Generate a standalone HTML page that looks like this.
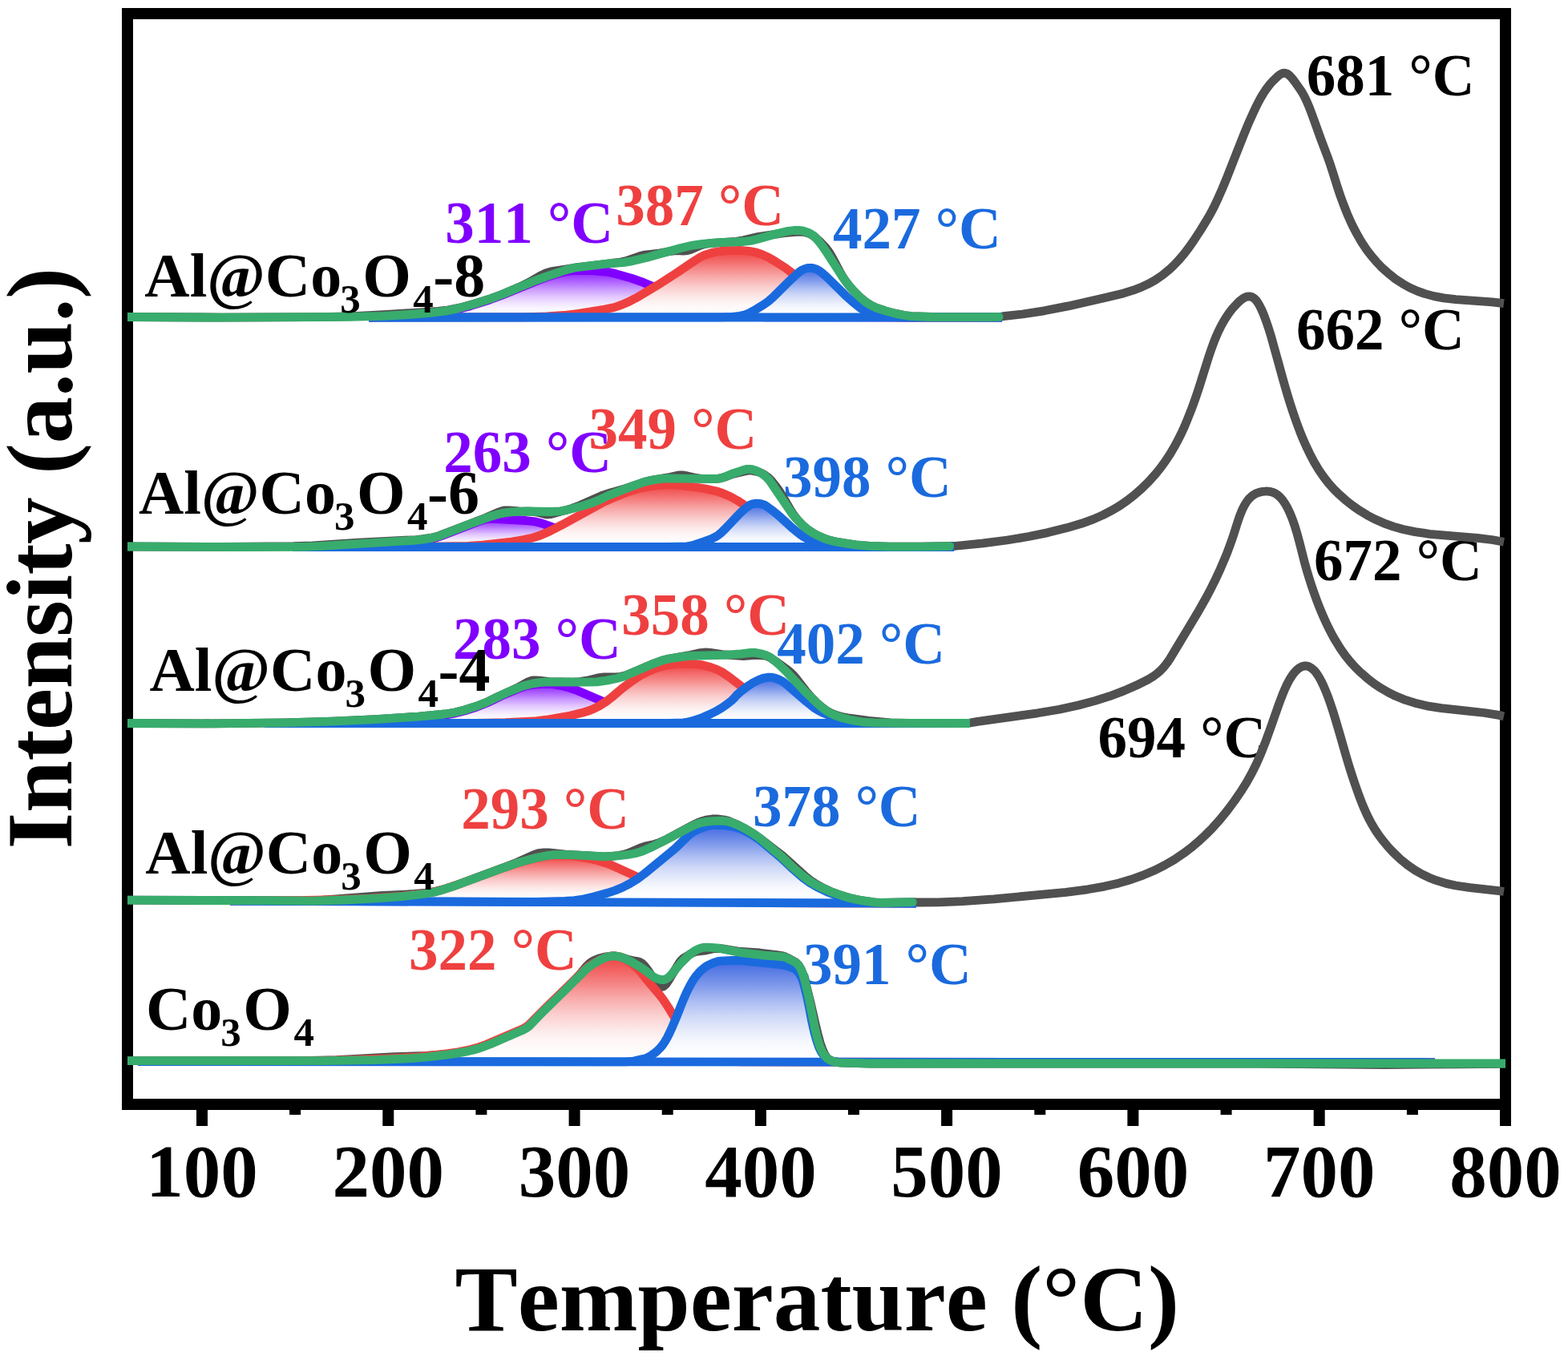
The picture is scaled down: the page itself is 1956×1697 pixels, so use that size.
<!DOCTYPE html>
<html lang="en"><head><meta charset="utf-8"><title>H2-TPR profiles</title>
<style>html,body{margin:0;padding:0;background:#fff}body{width:1956px;height:1697px;overflow:hidden}svg{display:block}</style>
</head><body>
<svg width="1956" height="1697" viewBox="0 0 1956 1697">
<rect width="1956" height="1697" fill="#fff"/>
<defs>
<linearGradient id="g1" gradientUnits="userSpaceOnUse" x1="0" y1="1192.9" x2="0" y2="1325"><stop offset="0" stop-color="#f04444"/><stop offset="0.1" stop-color="#f25a5a"/><stop offset="0.25" stop-color="#f58282"/><stop offset="0.4" stop-color="#f8abab"/><stop offset="0.55" stop-color="#fbcece"/><stop offset="0.7" stop-color="#fde9e9"/><stop offset="0.8" stop-color="#fef6f6"/><stop offset="0.9" stop-color="#fffcfc"/><stop offset="1" stop-color="#ffffff"/></linearGradient>
<linearGradient id="g2" gradientUnits="userSpaceOnUse" x1="0" y1="1198.3" x2="0" y2="1325"><stop offset="0" stop-color="#4169e1"/><stop offset="0.1" stop-color="#587be5"/><stop offset="0.25" stop-color="#809aeb"/><stop offset="0.4" stop-color="#aabcf2"/><stop offset="0.55" stop-color="#ced8f7"/><stop offset="0.7" stop-color="#e8edfb"/><stop offset="0.8" stop-color="#f6f8fe"/><stop offset="0.9" stop-color="#fcfdff"/><stop offset="1" stop-color="#ffffff"/></linearGradient>
<linearGradient id="g3" gradientUnits="userSpaceOnUse" x1="0" y1="1067" x2="0" y2="1126"><stop offset="0" stop-color="#f04444"/><stop offset="0.1" stop-color="#f25a5a"/><stop offset="0.25" stop-color="#f58282"/><stop offset="0.4" stop-color="#f8abab"/><stop offset="0.55" stop-color="#fbcece"/><stop offset="0.7" stop-color="#fde9e9"/><stop offset="0.8" stop-color="#fef6f6"/><stop offset="0.9" stop-color="#fffcfc"/><stop offset="1" stop-color="#ffffff"/></linearGradient>
<linearGradient id="g4" gradientUnits="userSpaceOnUse" x1="0" y1="1029.3" x2="0" y2="1126"><stop offset="0" stop-color="#4169e1"/><stop offset="0.1" stop-color="#587be5"/><stop offset="0.25" stop-color="#809aeb"/><stop offset="0.4" stop-color="#aabcf2"/><stop offset="0.55" stop-color="#ced8f7"/><stop offset="0.7" stop-color="#e8edfb"/><stop offset="0.8" stop-color="#f6f8fe"/><stop offset="0.9" stop-color="#fcfdff"/><stop offset="1" stop-color="#ffffff"/></linearGradient>
<linearGradient id="g5" gradientUnits="userSpaceOnUse" x1="0" y1="853.3" x2="0" y2="902.5"><stop offset="0" stop-color="#8a1cff"/><stop offset="0.1" stop-color="#9837ff"/><stop offset="0.25" stop-color="#b167ff"/><stop offset="0.4" stop-color="#ca99ff"/><stop offset="0.55" stop-color="#e1c4ff"/><stop offset="0.7" stop-color="#f1e4ff"/><stop offset="0.8" stop-color="#f9f4ff"/><stop offset="0.9" stop-color="#fdfcff"/><stop offset="1" stop-color="#ffffff"/></linearGradient>
<linearGradient id="g6" gradientUnits="userSpaceOnUse" x1="0" y1="828.3" x2="0" y2="902.5"><stop offset="0" stop-color="#f04444"/><stop offset="0.1" stop-color="#f25a5a"/><stop offset="0.25" stop-color="#f58282"/><stop offset="0.4" stop-color="#f8abab"/><stop offset="0.55" stop-color="#fbcece"/><stop offset="0.7" stop-color="#fde9e9"/><stop offset="0.8" stop-color="#fef6f6"/><stop offset="0.9" stop-color="#fffcfc"/><stop offset="1" stop-color="#ffffff"/></linearGradient>
<linearGradient id="g7" gradientUnits="userSpaceOnUse" x1="0" y1="845.1" x2="0" y2="902.5"><stop offset="0" stop-color="#4169e1"/><stop offset="0.1" stop-color="#587be5"/><stop offset="0.25" stop-color="#809aeb"/><stop offset="0.4" stop-color="#aabcf2"/><stop offset="0.55" stop-color="#ced8f7"/><stop offset="0.7" stop-color="#e8edfb"/><stop offset="0.8" stop-color="#f6f8fe"/><stop offset="0.9" stop-color="#fcfdff"/><stop offset="1" stop-color="#ffffff"/></linearGradient>
<linearGradient id="g8" gradientUnits="userSpaceOnUse" x1="0" y1="647.3" x2="0" y2="682.5"><stop offset="0" stop-color="#8a1cff"/><stop offset="0.1" stop-color="#9837ff"/><stop offset="0.25" stop-color="#b167ff"/><stop offset="0.4" stop-color="#ca99ff"/><stop offset="0.55" stop-color="#e1c4ff"/><stop offset="0.7" stop-color="#f1e4ff"/><stop offset="0.8" stop-color="#f9f4ff"/><stop offset="0.9" stop-color="#fdfcff"/><stop offset="1" stop-color="#ffffff"/></linearGradient>
<linearGradient id="g9" gradientUnits="userSpaceOnUse" x1="0" y1="604.7" x2="0" y2="682.5"><stop offset="0" stop-color="#f04444"/><stop offset="0.1" stop-color="#f25a5a"/><stop offset="0.25" stop-color="#f58282"/><stop offset="0.4" stop-color="#f8abab"/><stop offset="0.55" stop-color="#fbcece"/><stop offset="0.7" stop-color="#fde9e9"/><stop offset="0.8" stop-color="#fef6f6"/><stop offset="0.9" stop-color="#fffcfc"/><stop offset="1" stop-color="#ffffff"/></linearGradient>
<linearGradient id="g10" gradientUnits="userSpaceOnUse" x1="0" y1="628.2" x2="0" y2="682.5"><stop offset="0" stop-color="#4169e1"/><stop offset="0.1" stop-color="#587be5"/><stop offset="0.25" stop-color="#809aeb"/><stop offset="0.4" stop-color="#aabcf2"/><stop offset="0.55" stop-color="#ced8f7"/><stop offset="0.7" stop-color="#e8edfb"/><stop offset="0.8" stop-color="#f6f8fe"/><stop offset="0.9" stop-color="#fcfdff"/><stop offset="1" stop-color="#ffffff"/></linearGradient>
<linearGradient id="g11" gradientUnits="userSpaceOnUse" x1="0" y1="337.4" x2="0" y2="396"><stop offset="0" stop-color="#8a1cff"/><stop offset="0.1" stop-color="#9837ff"/><stop offset="0.25" stop-color="#b167ff"/><stop offset="0.4" stop-color="#ca99ff"/><stop offset="0.55" stop-color="#e1c4ff"/><stop offset="0.7" stop-color="#f1e4ff"/><stop offset="0.8" stop-color="#f9f4ff"/><stop offset="0.9" stop-color="#fdfcff"/><stop offset="1" stop-color="#ffffff"/></linearGradient>
<linearGradient id="g12" gradientUnits="userSpaceOnUse" x1="0" y1="312.4" x2="0" y2="396"><stop offset="0" stop-color="#f04444"/><stop offset="0.1" stop-color="#f25a5a"/><stop offset="0.25" stop-color="#f58282"/><stop offset="0.4" stop-color="#f8abab"/><stop offset="0.55" stop-color="#fbcece"/><stop offset="0.7" stop-color="#fde9e9"/><stop offset="0.8" stop-color="#fef6f6"/><stop offset="0.9" stop-color="#fffcfc"/><stop offset="1" stop-color="#ffffff"/></linearGradient>
<linearGradient id="g13" gradientUnits="userSpaceOnUse" x1="0" y1="334.3" x2="0" y2="396"><stop offset="0" stop-color="#4169e1"/><stop offset="0.1" stop-color="#587be5"/><stop offset="0.25" stop-color="#809aeb"/><stop offset="0.4" stop-color="#aabcf2"/><stop offset="0.55" stop-color="#ced8f7"/><stop offset="0.7" stop-color="#e8edfb"/><stop offset="0.8" stop-color="#f6f8fe"/><stop offset="0.9" stop-color="#fcfdff"/><stop offset="1" stop-color="#ffffff"/></linearGradient>
</defs>
<g fill="none" stroke="#000" stroke-width="14">
<rect x="159" y="17" width="1719" height="1361"/>
<path d="M252 1384V1405M484.3 1384V1405M716.6 1384V1405M948.9 1384V1405M1181.1 1384V1405M1413.4 1384V1405M1645.7 1384V1405M1878 1384V1405M368.1 1384V1391M600.4 1384V1391M832.7 1384V1391M1065 1384V1391M1297.3 1384V1391M1529.6 1384V1391M1761.9 1384V1391"/>
</g>
<g font-family="'Liberation Serif','Times New Roman',serif" font-weight="bold" style="font-kerning:none">
<text x="1629.8" y="119" font-size="73" fill="#000" text-anchor="start">681 °C</text>
<text x="1617" y="436" font-size="73" fill="#000" text-anchor="start">662 °C</text>
<text x="1639" y="723.7" font-size="73" fill="#000" text-anchor="start">672 °C</text>
<text x="1369.6" y="945" font-size="73" fill="#000" text-anchor="start">694 °C</text>
<text x="555.2" y="302.5" font-size="73" fill="#8000ff" text-anchor="start">311 °C</text>
<text x="768.2" y="280.7" font-size="73" fill="#ef4040" text-anchor="start">387 °C</text>
<text x="1039" y="310" font-size="73" fill="#1a6ade" text-anchor="start">427 °C</text>
<text x="553.2" y="588.7" font-size="73" fill="#8000ff" text-anchor="start">263 °C</text>
<text x="734.6" y="560" font-size="73" fill="#ef4040" text-anchor="start">349 °C</text>
<text x="977" y="619.5" font-size="73" fill="#1a6ade" text-anchor="start">398 °C</text>
<text x="565" y="822" font-size="73" fill="#8000ff" text-anchor="start">283 °C</text>
<text x="775.2" y="792" font-size="73" fill="#ef4040" text-anchor="start">358 °C</text>
<text x="969.2" y="828" font-size="73" fill="#1a6ade" text-anchor="start">402 °C</text>
<text x="575.2" y="1033.7" font-size="73" fill="#ef4040" text-anchor="start">293 °C</text>
<text x="938.9" y="1031" font-size="73" fill="#1a6ade" text-anchor="start">378 °C</text>
<text x="510" y="1210" font-size="73" fill="#ef4040" text-anchor="start">322 °C</text>
<text x="1002" y="1227.5" font-size="73" fill="#1a6ade" text-anchor="start">391 °C</text>
</g>
<g fill="none" stroke-width="10.8" stroke-linejoin="round">
<path stroke="#505050" d="M159 1323.7L387 1323.5L420 1322.7L492 1318.7L531 1317.5L558 1315.5L573 1313.5L588 1310.6L597 1308.2L606 1305.1L651 1285.9L657 1282.7L660 1280.4L678 1261.8L702 1238.5L714 1226.3L723 1216.2L732 1205.3L735 1202.4L738 1200.2L741 1198.5L747 1196.1L756 1193.8L762 1193L768 1193L774 1194.1L783 1197.2L789 1198.6L795 1199.5L798 1200.4L801 1202.2L804 1205.1L807 1208.8L810 1213.1L816 1222.5L819 1226.8L822 1230L825 1231.5L828 1230.7L831 1227.8L834 1223.5L846 1203.5L849 1199.1L852 1196.2L861 1190.6L864 1189L867 1187.8L870 1187.1L879 1186.1L891 1183.5L894 1183.3L900 1183.7L921 1187.2L948 1189L969 1191.6L975 1192.6L978 1193.3L984 1195.9L993 1201L996 1204L999 1208.8L1002 1216.2L1005 1226.5L1011 1250.7L1017 1277.1L1020 1289.6L1023 1300.9L1026 1309.6L1029 1316.1L1032 1320.4L1035 1322.5L1041 1324.9L1044 1325.7L1050 1326.1L1086 1327L1569 1327.2L1728 1328.5L1821 1327.8L1878 1327.3"/>
<path stroke="none" fill="url(#g1)" d="M367.1 1324.4L427.2 1323L487.2 1320.7L523.2 1318.6L559.2 1314.7L577.3 1311.7L589.3 1309L601.3 1305.3L616.3 1299.2L652.3 1283.6L655.3 1281.9L658.3 1279.9L661.3 1277.2L682.3 1256.1L721.3 1218.1L730.3 1209.1L733.3 1206.5L739.4 1202.5L748.4 1197.7L754.4 1195.2L757.4 1194.2L760.4 1193.4L763.4 1193L766.4 1192.9L769.4 1193.2L772.4 1193.8L775.4 1194.8L778.4 1196.1L784.4 1199.7L790.4 1204.3L793.4 1206.8L796.4 1209.7L799.4 1213.1L805.4 1220.7L820.4 1238.4L826.4 1246L829.4 1250.3L835.4 1259.7L844.4 1274.6L850.4 1284.7L853.4 1289.2L859.4 1297.3L862.4 1301L865.4 1304.4L868.4 1307.5L871.4 1310.3L874.4 1312.7L877.4 1314.7L883.4 1317.5L892.4 1320.8L898.4 1322.3L913.5 1324.4L922.5 1324.8L922.5 1325.1L367.1 1324.6Z"/>
<path stroke="#ef4040" d="M172 1324.5L358.1 1324.5L418.2 1323.2L484.2 1320.8L520.2 1318.9L553.2 1315.4L571.2 1312.8L586.3 1309.8L595.3 1307.3L607.3 1303L652.3 1283.6L655.3 1281.9L658.3 1279.9L661.3 1277.2L682.3 1256.1L721.3 1218.1L730.3 1209.1L733.3 1206.5L739.4 1202.5L748.4 1197.7L754.4 1195.2L757.4 1194.2L760.4 1193.4L763.4 1193L766.4 1192.9L769.4 1193.2L772.4 1193.8L775.4 1194.8L778.4 1196.1L784.4 1199.7L790.4 1204.3L793.4 1206.8L796.4 1209.7L799.4 1213.1L805.4 1220.7L820.4 1238.4L826.4 1246L829.4 1250.3L835.4 1259.7L844.4 1274.6L850.4 1284.7L853.4 1289.2L859.4 1297.3L862.4 1301L865.4 1304.4L868.4 1307.5L871.4 1310.3L874.4 1312.7L877.4 1314.7L883.4 1317.5L892.4 1320.8L898.4 1322.3L913.5 1324.4L925.5 1324.8L997.5 1325.1L1790 1325.7"/>
<path stroke="none" fill="url(#g2)" d="M784.4 1324.8L793.4 1323.4L805.4 1320.6L808.4 1319.3L811.4 1317.7L817.4 1313.4L820.4 1310.8L823.4 1307.8L826.4 1304.2L829.4 1299.8L832.4 1294.6L835.4 1288.5L838.4 1281.9L844.4 1267.8L850.4 1252.6L853.4 1245.2L856.4 1238.4L859.4 1232.3L862.4 1226.8L865.4 1221.9L868.4 1217.7L871.4 1214.1L874.4 1211.1L877.4 1208.5L880.4 1206.1L883.4 1204.3L889.4 1201.6L895.4 1199.6L898.4 1199.1L913.5 1198.3L922.5 1198.5L976.5 1204L982.5 1205.6L988.5 1207.6L991.5 1209.1L994.5 1211.5L997.5 1215.3L1000.5 1220.9L1003.5 1230.7L1006.5 1243L1009.5 1257.4L1012.5 1273.4L1015.5 1286.8L1018.5 1297.8L1021.5 1306.6L1024.5 1312.7L1027.5 1316.8L1030.5 1320.1L1033.5 1322.5L1036.5 1323.8L1045.5 1325.1L1045.5 1325.1L784.4 1325Z"/>
<path stroke="#1a6ade" d="M172 1324.5L781.4 1324.9L790.4 1324L802.4 1321.4L805.4 1320.6L808.4 1319.3L811.4 1317.7L817.4 1313.4L820.4 1310.8L823.4 1307.8L826.4 1304.2L829.4 1299.8L832.4 1294.6L835.4 1288.5L838.4 1281.9L844.4 1267.8L850.4 1252.6L853.4 1245.2L856.4 1238.4L859.4 1232.3L862.4 1226.8L865.4 1221.9L868.4 1217.7L871.4 1214.1L874.4 1211.1L877.4 1208.5L880.4 1206.1L883.4 1204.3L889.4 1201.6L895.4 1199.6L898.4 1199.1L913.5 1198.3L922.5 1198.5L976.5 1204L982.5 1205.6L988.5 1207.6L991.5 1209.1L994.5 1211.5L997.5 1215.3L1000.5 1220.9L1003.5 1230.7L1006.5 1243L1009.5 1257.4L1012.5 1273.4L1015.5 1286.8L1018.5 1297.8L1021.5 1306.6L1024.5 1312.7L1027.5 1316.8L1030.5 1320.1L1033.5 1322.5L1036.5 1323.8L1045.5 1325.1L1790 1325.7"/>
<path stroke="#1a6ade" d="M172 1324.5L1790 1325.7"/>
<path stroke="#38ac6c" d="M159 1323.7L405 1323.6L468 1322.6L513 1320.6L534 1318.9L561 1315.7L579 1312.7L591 1310L600 1307.3L612 1302.7L651 1285.9L657 1282.7L660 1280.4L678 1261.8L702 1238.5L732 1208.6L735 1206.2L744 1200.5L750 1197.2L756 1194.6L759 1193.8L762 1193.2L765 1193L771 1193.4L774 1194.1L777 1195.1L786 1199.3L798 1206.2L804 1210.3L813 1217.3L816 1219.4L819 1220.9L822 1221.9L825 1222.5L828 1222.5L831 1221.6L834 1219.6L837 1216.6L843 1209.3L849 1202.1L858 1193.1L861 1190.5L864 1188.2L867 1186.3L870 1184.7L873 1183.5L876 1182.6L879 1182.1L885 1182.1L897 1183.2L924 1188.6L954 1192.1L975 1193.7L978 1194.2L981 1195.2L987 1198L993 1201.2L996 1204.2L999 1209L1002 1216.5L1005 1227.3L1008 1240.6L1011 1254.8L1014 1270.3L1017 1285L1020 1297.2L1023 1306.5L1026 1312.9L1029 1317.6L1032 1320.9L1035 1322.7L1041 1324.9L1044 1325.7L1050 1326.1L1086 1327L1878 1327"/>
</g>
<g fill="none" stroke-width="10.8" stroke-linejoin="round">
<path stroke="#505050" d="M159 1123.2L327.1 1123.7L378.2 1124L402.2 1123.2L435.2 1120.7L474.2 1117.7L516.3 1115.5L531.3 1114.2L543.3 1112.3L555.3 1109.1L573.3 1103L630.3 1081.9L645.3 1076L666.4 1066.3L672.4 1064.5L678.4 1063.8L684.4 1063.9L705.4 1066.1L753.4 1068.8L762.4 1068.5L771.4 1067.5L777.4 1066.4L783.4 1064.6L798.5 1058.1L804.5 1056.1L816.5 1053.4L822.5 1051.5L831.5 1047.3L864.5 1029.6L870.5 1026.6L876.5 1024.4L882.5 1022.8L888.5 1022L894.5 1021.9L903.5 1023.1L909.5 1024.6L918.5 1028.4L930.5 1034.6L939.6 1040.1L948.6 1046.5L966.6 1060.6L975.6 1067.4L984.6 1075.4L1005.6 1094.2L1011.6 1098.9L1017.6 1103L1026.6 1108L1035.6 1112.2L1047.6 1116.7L1059.6 1120.4L1071.6 1123.1L1089.7 1125.9L1098.7 1126.5L1140.7 1125.6L1143.7 1126L1170.7 1125.9L1200.7 1124.7L1239.7 1121.9L1329.8 1113.3L1356.8 1109.8L1377.8 1106.1L1395.8 1101.9L1410.8 1097.5L1425.8 1092.1L1440.8 1085.7L1452.8 1079.6L1464.8 1072.7L1476.8 1064.6L1485.8 1057.8L1494.8 1050.2L1503.8 1041.9L1512.9 1032.7L1521.9 1022.6L1530.9 1011.5L1539.9 999.4L1548.9 986.2L1554.9 976.6L1560.9 965.9L1563.9 960L1566.9 953.9L1569.9 947.3L1572.9 940.3L1575.9 932.8L1578.9 925L1584.9 908.5L1593.9 882.8L1596.9 874.5L1599.9 866.7L1602.9 859.5L1605.9 853.1L1608.9 847.5L1611.9 842.8L1614.9 838.9L1617.9 835.7L1620.9 833.4L1623.9 831.8L1626.9 831L1629.9 831L1632.9 831.8L1635.9 833.6L1638.9 836.1L1641.9 839.6L1644.9 844L1647.9 849.4L1650.9 855.6L1653.9 862.6L1656.9 870.3L1659.9 878.8L1662.9 887.9L1665.9 897.6L1671.9 918.1L1677.9 939.1L1680.9 949.3L1683.9 959.1L1686.9 968.5L1689.9 977.4L1692.9 986L1695.9 994.3L1698.9 1002.1L1701.9 1009.3L1704.9 1016L1707.9 1022.1L1710.9 1027.7L1713.9 1032.8L1716.9 1037.6L1719.9 1042L1725.9 1049.9L1731.9 1057.1L1737.9 1063.5L1746.9 1072.1L1756 1079.5L1765 1085.7L1774 1090.9L1783 1095.2L1792 1098.7L1804 1102.4L1816 1105L1834 1107.7L1870 1111.6L1876 1112.5"/>
<path stroke="none" fill="url(#g3)" d="M329 1124.1L407.1 1123L452.2 1121.6L497.2 1118.6L527.3 1115.4L539.3 1113.5L548.3 1111.3L566.3 1105.5L623.4 1084.5L647.4 1076.4L665.4 1071.4L677.5 1068.8L686.5 1067.5L695.5 1067L707.5 1067.3L719.5 1068.6L734.5 1071.1L746.5 1074L755.5 1076.8L764.6 1080.3L791.6 1092.7L815.6 1102.4L830.6 1107.7L851.7 1113.6L869.7 1117.9L884.7 1120.5L905.7 1123.2L932.8 1125.3L950.8 1126.2L950.8 1126.5L329 1124.3Z"/>
<path stroke="#ef4040" d="M287 1124.2L371.1 1123.6L428.2 1122.5L461.2 1121.1L500.2 1118.3L530.3 1115L542.3 1112.8L554.3 1109.5L575.3 1102.3L623.4 1084.5L647.4 1076.4L665.4 1071.4L677.5 1068.8L686.5 1067.5L695.5 1067L707.5 1067.3L719.5 1068.6L734.5 1071.1L746.5 1074L755.5 1076.8L764.6 1080.3L791.6 1092.7L815.6 1102.4L830.6 1107.7L851.7 1113.6L869.7 1117.9L884.7 1120.5L905.7 1123.2L932.8 1125.3L959.8 1126.6L1143 1127.2"/>
<path stroke="none" fill="url(#g4)" d="M674.5 1125.3L710.5 1124.2L719.5 1123.4L731.5 1121.1L758.6 1114L767.6 1111L776.6 1107.2L785.6 1102.6L794.6 1097.2L803.6 1090.5L836.6 1063.4L842.6 1058.3L857.7 1043.6L860.7 1041L863.7 1038.8L866.7 1036.9L872.7 1034.1L881.7 1031L887.7 1029.6L893.7 1029.3L902.7 1029.6L911.7 1030.8L917.7 1032.1L923.7 1034.2L932.8 1038.5L941.8 1044L947.8 1048.2L974.8 1070.9L989.8 1085L1001.8 1095.3L1010.8 1101.9L1019.9 1107.2L1031.9 1112.9L1043.9 1117.5L1055.9 1121.3L1067.9 1124.2L1076.9 1125.7L1091.9 1126.8L1091.9 1127L674.5 1125.6Z"/>
<path stroke="#1a6ade" d="M287 1124.2L668.4 1125.4L704.5 1124.5L716.5 1123.7L725.5 1122.4L740.5 1118.9L758.6 1114L767.6 1111L776.6 1107.2L785.6 1102.6L794.6 1097.2L803.6 1090.5L836.6 1063.4L842.6 1058.3L857.7 1043.6L860.7 1041L863.7 1038.8L866.7 1036.9L872.7 1034.1L881.7 1031L887.7 1029.6L893.7 1029.3L902.7 1029.6L911.7 1030.8L917.7 1032.1L923.7 1034.2L932.8 1038.5L941.8 1044L947.8 1048.2L974.8 1070.9L989.8 1085L1001.8 1095.3L1010.8 1101.9L1019.9 1107.2L1031.9 1112.9L1043.9 1117.5L1055.9 1121.3L1067.9 1124.2L1076.9 1125.7L1091.9 1126.8L1116 1127.1L1143 1127.2"/>
<path stroke="#1a6ade" d="M287 1124.2L1143 1127.2"/>
<path stroke="#38ac6c" d="M159 1123.2L327.1 1123.7L390.2 1124.2L429.2 1123L471.2 1120.9L501.2 1118.6L528.3 1115.5L540.3 1113.5L549.3 1111.2L567.3 1105.3L624.3 1084.1L648.3 1075.9L669.4 1070.2L681.4 1067.8L690.4 1066.7L702.4 1066.3L732.4 1067.6L753.4 1068.8L765.4 1068.3L783.4 1066.5L792.5 1064.8L801.5 1062L813.5 1056.8L828.5 1049.1L858.5 1033.2L867.5 1028.8L873.5 1026.8L882.5 1025.1L891.5 1024.3L900.5 1024.2L906.5 1024.8L912.5 1026.3L921.5 1030L930.5 1034.6L939.6 1040.2L948.6 1046.7L975.6 1069.5L987.6 1081L999.6 1091.5L1008.6 1098.4L1014.6 1102.2L1023.6 1107L1035.6 1112.3L1050.6 1117.7L1062.6 1121.2L1074.7 1123.6L1092.7 1126.2L1101.7 1126.5L1138.3 1125.7"/>
<circle cx="1138.3" cy="1125.7" r="5.4" fill="#38ac6c"/>
</g>
<g fill="none" stroke-width="10.8" stroke-linejoin="round">
<path stroke="#505050" d="M159 902.5L264.1 902.8L354.2 901.9L414.2 900.1L468.3 897.6L522.3 894.1L555.4 891L567.4 889L579.4 886L594.4 881.2L606.4 876.5L618.4 870.7L630.4 865.1L645.5 858.2L657.5 851.5L660.5 850.1L663.5 849.2L666.5 848.8L672.5 849.1L684.5 850.7L714.5 851.1L723.5 850.6L732.5 849.2L747.6 845.6L753.6 844.9L768.6 844.9L774.6 844.3L780.6 842.7L792.6 837.7L816.6 827.6L825.6 824.3L834.6 822L861.7 817.2L873.7 814.6L879.7 814L885.7 814.3L900.7 816.7L927.7 818.5L933.7 818.2L942.7 817.3L951.8 817.8L954.8 818.2L957.8 819.1L960.8 820.6L969.8 826.8L981.8 835.4L984.8 837.8L987.8 840.5L990.8 843.6L993.8 847.2L1005.8 862.9L1011.8 869.8L1017.8 875.9L1023.8 881.3L1029.8 885.9L1035.8 889.4L1041.8 892L1050.8 894.6L1059.9 896.2L1083.9 899.4L1110.9 901.8L1134.9 902.4L1207 902.5L1219.4 900.4L1294.3 889.8L1321.3 885.2L1345.3 880L1366.3 874.4L1384.3 868.7L1402.3 861.9L1417.3 855.3L1432.3 847.8L1438.3 844.2L1444.3 839.7L1447.3 837.1L1450.3 834L1453.3 830.5L1456.3 826.6L1459.3 822.2L1465.2 812.4L1483.2 782.5L1495.2 762.4L1504.2 746.5L1510.2 735.2L1516.2 723.1L1522.2 710.2L1528.2 696.2L1531.2 688.7L1534.2 680.7L1537.2 672.2L1540.2 663.1L1543.2 653.5L1546.2 644.5L1549.2 636.9L1552.2 630.8L1555.2 626L1558.2 622.2L1561.2 619.4L1564.2 617.2L1567.2 615.6L1570.2 614.5L1573.2 613.7L1579.2 613L1582.2 613.1L1585.2 613.6L1588.2 614.5L1591.2 615.9L1594.2 618L1597.2 620.8L1600.2 624.3L1603.2 628.7L1606.2 634L1609.2 640.4L1612.2 647.8L1615.2 656.4L1618.2 666.3L1621.2 677.4L1624.2 689.3L1627.1 700.8L1630.1 711.5L1633.1 721.5L1636.1 730.8L1639.1 739.6L1642.1 747.9L1645.1 755.7L1648.1 763.1L1651.1 770.1L1654.1 776.7L1657.1 783L1660.1 788.9L1663.1 794.5L1666.1 799.7L1672.1 809.3L1678.1 817.8L1684.1 825.3L1690.1 832L1696.1 838L1705.1 845.9L1714.1 852.9L1723.1 858.9L1732.1 864.1L1741.1 868.6L1753.1 873.4L1765.1 877.2L1780.1 880.8L1798 883.7L1828 886.9L1852 889.5L1870 892.4L1876 893.7"/>
<path stroke="none" fill="url(#g5)" d="M381.1 902.3L435.1 900.3L504.2 896.4L546.2 893L558.3 891.6L570.3 889.4L585.3 885.2L600.3 880L612.3 874.8L627.3 867.5L648.4 858.6L654.4 856.4L660.4 855L669.4 853.8L681.4 853.3L690.4 853.8L699.4 855.3L711.4 858.6L720.4 861.7L765.5 881L777.5 886L792.5 891.2L804.5 894.7L816.6 897.4L834.6 900.2L849.6 901.5L873.6 902.3L873.6 902.5L381.1 902.5Z"/>
<path stroke="#8000ff" d="M330 902.5L378.1 902.3L432.1 900.4L501.2 896.6L540.2 893.6L555.3 892.1L567.3 890.1L579.3 887L594.3 882.3L606.3 877.5L615.3 873.3L627.3 867.5L648.4 858.6L654.4 856.4L660.4 855L669.4 853.8L681.4 853.3L690.4 853.8L699.4 855.3L711.4 858.6L720.4 861.7L765.5 881L777.5 886L792.5 891.2L804.5 894.7L816.6 897.4L834.6 900.2L849.6 901.5L885.6 902.5L1210 902.5"/>
<path stroke="none" fill="url(#g6)" d="M609.3 902.2L648.4 901L669.4 899.7L687.4 897.2L711.4 893L726.5 889.3L735.5 886.5L741.5 884L747.5 880.9L756.5 875.1L762.5 870.5L777.5 857.9L789.5 849L798.5 843.1L807.5 838.2L819.6 833.3L825.6 831.4L834.6 829.6L846.6 828.5L858.6 828.3L867.6 828.7L876.6 829.9L885.6 832.2L894.6 835.5L900.6 838.5L909.7 844.7L924.7 856.2L945.7 873.6L954.7 880.2L966.7 888L972.7 891.2L981.7 895L993.8 898.4L1002.8 900.2L1011.8 901.1L1032.8 902.2L1032.8 902.5L609.3 902.5Z"/>
<path stroke="#ef4040" d="M330 902.5L594.3 902.3L630.3 901.7L666.4 900L681.4 898.2L711.4 893L726.5 889.3L735.5 886.5L741.5 884L747.5 880.9L756.5 875.1L762.5 870.5L777.5 857.9L789.5 849L798.5 843.1L807.5 838.2L819.6 833.3L825.6 831.4L834.6 829.6L846.6 828.5L858.6 828.3L867.6 828.7L876.6 829.9L885.6 832.2L894.6 835.5L900.6 838.5L909.7 844.7L924.7 856.2L945.7 873.6L954.7 880.2L966.7 888L972.7 891.2L981.7 895L993.8 898.4L1002.8 900.2L1011.8 901.1L1035.8 902.3L1143.9 902.5L1210 902.5"/>
<path stroke="none" fill="url(#g7)" d="M840.6 902.3L852.6 901.8L858.6 900.9L867.6 898.4L876.6 895.3L885.6 891.3L894.6 886.7L900.6 883.1L906.7 878.9L912.7 874.1L915.7 871.2L918.7 867.6L924.7 862.3L933.7 855.6L939.7 851.8L945.7 848.7L951.7 846.4L957.7 845.2L960.7 845.1L963.7 845.4L966.7 846.1L972.7 848.4L975.7 850L978.7 852L1005.8 875.3L1014.8 882.6L1020.8 886.5L1026.8 889.6L1035.8 893.3L1044.8 896.2L1056.8 898.9L1068.8 900.9L1086.9 902.3L1086.9 902.5L840.6 902.5Z"/>
<path stroke="#1a6ade" d="M330 902.5L834.6 902.4L852.6 901.8L858.6 900.9L867.6 898.4L876.6 895.3L885.6 891.3L894.6 886.7L900.6 883.1L906.7 878.9L912.7 874.1L915.7 871.2L918.7 867.6L924.7 862.3L933.7 855.6L939.7 851.8L945.7 848.7L951.7 846.4L957.7 845.2L960.7 845.1L963.7 845.4L966.7 846.1L972.7 848.4L975.7 850L978.7 852L1005.8 875.3L1014.8 882.6L1020.8 886.5L1026.8 889.6L1035.8 893.3L1044.8 896.2L1056.8 898.9L1068.8 900.9L1086.9 902.3L1116.9 902.5L1210 902.5"/>
<path stroke="#1a6ade" d="M330 902.5L1210 902.5"/>
<path stroke="#38ac6c" d="M159 902.5L264.1 902.8L354.2 901.9L414.2 900.1L468.3 897.6L522.3 894.1L555.4 891L567.4 889L579.4 886L594.4 881.2L606.4 876.5L618.4 870.7L630.4 865.1L648.5 857.5L654.5 855.4L663.5 853.2L675.5 851.3L687.5 850.9L732.5 851.2L744.6 850.9L756.6 849.1L768.6 846.7L777.6 844.2L789.6 839.1L810.6 830L825.6 824.3L834.6 822L849.7 819.6L861.7 818.4L903.7 817.4L924.7 815.9L936.7 814.4L939.7 814.3L942.7 814.5L951.8 816.4L954.8 817.3L957.8 818.6L960.8 820.3L966.8 824.8L972.8 830.1L981.8 839L1002.8 861.3L1014.8 873.2L1023.8 881.4L1029.8 886.1L1035.8 889.8L1041.8 892.7L1050.8 895.8L1059.9 898.1L1077.9 901.2L1089.9 901.9L1128.9 902.4L1210 902.5"/>
</g>
<g fill="none" stroke-width="10.8" stroke-linejoin="round">
<path stroke="#505050" d="M159 682L275.9 682.4L365.8 681.7L389.8 680.9L446.7 677.1L518.7 673.6L527.6 672.7L539.6 670.8L545.6 669.3L560.6 663.6L605.6 646.3L620.6 639.6L626.5 637.5L629.5 636.9L635.5 636.8L647.5 637.8L662.5 638.1L668.5 638.8L680.5 641.8L683.5 642L686.5 641.7L704.5 636.9L713.5 634.4L722.5 631L752.4 617.8L761.4 614.9L776.4 610.8L803.4 601.5L812.4 599.3L836.3 595.2L845.3 593.2L848.3 592.9L851.3 592.9L857.3 593.9L866.3 596.1L875.3 597.3L887.3 597.5L896.3 597.2L899.3 596.7L905.3 594.8L914.3 591.4L932.2 587.3L935.2 587L938.2 587.1L944.2 588.4L947.2 589.3L950.2 590.6L953.2 592.2L956.2 594.3L959.2 596.6L962.2 599.8L968.2 607.1L971.2 611.2L974.2 615.7L980.2 625.9L986.2 636.5L989.2 641.2L992.2 645.3L995.2 648.9L1001.2 655.2L1007.2 660.5L1013.2 664.5L1019.2 667.9L1028.2 671.9L1034.2 674L1046.1 676.7L1067.1 679.9L1085.1 681.4L1109.1 682.1L1148 682.2L1190.3 681.5L1226.2 677.9L1256.2 674L1283.1 669.5L1307.1 664.6L1331 658.6L1349 653.3L1364 647.9L1375.9 642.6L1387.9 636.4L1396.9 631L1405.9 624.8L1414.9 617.8L1423.9 609.9L1432.8 601.1L1441.8 591.1L1447.8 583.7L1453.8 575.4L1459.8 566.2L1465.8 556L1468.8 550.4L1471.8 544.5L1474.8 538.3L1477.8 531.7L1480.7 524.7L1483.7 517.3L1486.7 509.6L1489.7 501.4L1492.7 492.8L1495.7 483.7L1507.7 445.5L1510.7 436.6L1513.7 428.3L1516.7 420.7L1519.7 413.9L1522.7 407.8L1525.7 402.2L1528.7 397.2L1531.7 392.7L1534.6 388.6L1537.6 384.9L1543.6 378.4L1546.6 375.5L1549.6 373.1L1552.6 371.2L1555.6 370.1L1558.6 369.8L1561.6 370.5L1564.6 372.3L1567.6 375.5L1570.6 380.1L1573.6 386L1576.6 393L1579.6 401.1L1582.6 410L1585.6 419.7L1588.5 430.1L1594.5 451.7L1600.5 473.5L1603.5 484L1606.5 494.1L1609.5 503.8L1612.5 513L1615.5 521.9L1618.5 530.3L1621.5 538.2L1624.5 545.6L1627.5 552.6L1630.5 559.2L1633.5 565.4L1636.5 571.2L1639.4 576.7L1642.4 581.8L1645.4 586.7L1651.4 595.4L1657.4 603.1L1663.4 609.9L1669.4 615.9L1678.4 623.9L1687.4 631L1696.3 637.2L1705.3 642.7L1714.3 647.5L1726.3 652.8L1738.3 657.1L1750.2 660.5L1765.2 663.6L1783.2 666.3L1810.1 668.7L1843.1 671.3L1861 673.5L1876 676.2"/>
<path stroke="none" fill="url(#g8)" d="M395 682.3L497 676.6L524 674.6L539 672.2L545 670.7L554 667.4L599 649.9L605 648L608 647.4L617 647.4L656 649.5L668 650.9L674 652.4L689 657.7L698 660.3L704 662.6L716 667.9L731 673.3L743 676.9L755 679.4L767 680.9L788 682.1L791 682.2L791 682.5L395 682.5Z"/>
<path stroke="#8000ff" d="M365 682.4L392 682.5L488 677.1L524 674.6L539 672.2L545 670.7L554 667.4L599 649.9L605 648L608 647.4L617 647.4L656 649.5L668 650.9L674 652.4L689 657.7L698 660.3L704 662.6L716 667.9L731 673.3L743 676.9L755 679.4L767 680.9L788 682.1L818 682.5L1190 682.4"/>
<path stroke="none" fill="url(#g9)" d="M521 682.2L587 681.2L605 679.9L641 675.6L656 673L668 670.1L677 666.8L689 661.3L722 643.4L752 626.9L764 621.5L782 614.2L794 610.3L806 607.7L821 605.5L833 604.7L845 605.1L857 606.3L878 609.5L893 612.7L902 615.7L911 619.6L920 624.6L935 634.4L950 645.5L965 656.6L977 664.6L983 668.3L989 671.3L998 674.8L1010 678.3L1019 679.9L1040 681.8L1052 682.2L1052 682.5L521 682.5Z"/>
<path stroke="#ef4040" d="M365 682.4L515 682.3L584 681.3L602 680.2L638 676L653 673.6L665 670.9L674 668L686 662.7L701 654.9L752 626.9L764 621.5L782 614.2L794 610.3L806 607.7L821 605.5L833 604.7L845 605.1L857 606.3L878 609.5L893 612.7L902 615.7L911 619.6L920 624.6L935 634.4L950 645.5L965 656.6L977 664.6L983 668.3L989 671.3L998 674.8L1010 678.3L1019 679.9L1040 681.8L1064 682.5L1190 682.4"/>
<path stroke="none" fill="url(#g10)" d="M845 682.2L857 681.9L863 680.8L878 675.9L887 672.6L893 669.6L896 667.7L899 665.3L905 659.5L923 640.5L929 635L935 630.5L938 629.1L941 628.4L944 628.2L947 628.3L950 628.8L953 629.8L956 631.5L965 638.2L974 645.7L989 659.4L995 664.4L1001 668.8L1007 672.5L1013 675.5L1019 677.9L1025 679.6L1034 681L1046 682L1052 682.2L1052 682.5L845 682.5Z"/>
<path stroke="#1a6ade" d="M365 682.4L833 682.3L857 681.9L863 680.8L878 675.9L887 672.6L893 669.6L896 667.7L899 665.3L905 659.5L923 640.5L929 635L935 630.5L938 629.1L941 628.4L944 628.2L947 628.3L950 628.8L953 629.8L956 631.5L965 638.2L974 645.7L989 659.4L995 664.4L1001 668.8L1007 672.5L1013 675.5L1019 677.9L1025 679.6L1034 681L1046 682L1070 682.5L1190 682.4"/>
<path stroke="#1a6ade" d="M365 682.5L1190 682.5"/>
<path stroke="#38ac6c" d="M159 682L293.9 682.5L377.8 682.4L401.8 681.4L518.7 674.1L530.6 672.7L542.6 670.4L548.6 668.5L584.6 654.5L611.6 644.5L620.6 641.8L629.5 639.9L638.5 638.8L656.5 638L686.5 638.5L698.5 637.9L707.5 636.4L725.5 631.6L737.4 627.9L746.4 624.3L758.4 618.5L788.4 606.8L803.4 601.5L812.4 599.3L824.4 597.3L833.3 596.8L869.3 597.3L890.3 597.5L896.3 597.2L899.3 596.7L905.3 594.7L914.3 590.8L926.3 586.8L932.2 585.3L935.2 585.3L938.2 585.7L944.2 587.7L947.2 589.1L950.2 590.8L953.2 593L956.2 595.6L959.2 598.8L962.2 602.9L986.2 638.3L989.2 642.4L992.2 646L998.2 652.3L1004.2 658L1007.2 660.5L1013.2 664.5L1019.2 667.9L1028.2 671.9L1034.2 674L1046.1 676.7L1067.1 679.9L1085.1 681.4L1109.1 682.1L1148 682.2L1184.6 681.6"/>
<circle cx="1184.6" cy="681.6" r="5.4" fill="#38ac6c"/>
</g>
<g fill="none" stroke-width="10.8" stroke-linejoin="round">
<path stroke="#505050" d="M159 395.5L276.1 396.1L402.1 395.6L441.1 394.7L483.1 392.5L546.2 388.4L558.2 387L573.2 384.1L591.2 379.2L612.2 372.6L627.2 367L651.2 356.6L660.2 352.2L675.2 343.5L681.2 340.6L687.2 338.9L708.3 335.5L720.3 333.5L774.3 327.1L780.3 325.8L798.3 319.5L804.3 318.1L822.3 316L837.3 313.3L843.3 312.7L852.3 313L855.3 312.9L858.3 312.4L861.3 311.5L873.3 306.2L879.3 304.5L888.3 303.3L918.3 301.3L927.4 299.8L945.4 295.6L978.4 290.6L996.4 289.1L1002.4 289.4L1008.4 291L1011.4 292.3L1014.4 294.1L1017.4 296.4L1023.4 302L1029.4 308.2L1032.4 312L1035.4 316.4L1038.4 321.5L1047.4 338.6L1050.4 343.9L1053.4 348.6L1056.4 352.8L1059.4 356.7L1065.4 363.5L1071.4 369.6L1077.4 374.9L1080.4 377.2L1086.4 380.9L1092.4 383.8L1104.4 387.9L1116.4 391.1L1128.4 393.5L1137.4 394.6L1161.5 395.5L1233.5 395.6L1248.5 395.4L1251.5 394.6L1275.5 392L1302.5 387.8L1332.6 381.9L1380.6 371L1401.6 365.9L1413.6 362.2L1422.6 358.8L1431.6 354.7L1440.7 349.7L1449.7 343.6L1458.7 336.3L1464.7 330.6L1470.7 324.3L1476.7 317.2L1482.7 309.4L1488.7 300.9L1497.7 287.1L1506.7 272.4L1509.7 267.1L1512.7 261.5L1515.7 255.5L1518.7 249.1L1524.7 235.6L1530.7 221.1L1542.7 190.6L1551.7 167.8L1557.7 153.2L1563.8 139.7L1566.8 133.4L1569.8 127.4L1572.8 121.9L1575.8 116.9L1578.8 112.3L1581.8 108.2L1584.8 104.4L1587.8 101.1L1593.8 95.3L1596.8 93L1599.8 91.4L1602.8 91.1L1605.8 92.1L1608.8 94.4L1611.8 97.6L1614.8 101.5L1620.8 110L1623.8 114.4L1626.8 119.6L1629.8 125.8L1632.8 132.8L1635.8 140.6L1641.8 157.1L1647.8 173.8L1656.8 197.7L1659.8 206.3L1662.8 215.6L1668.8 234.8L1671.8 243.7L1674.8 252L1677.8 259.9L1680.8 267.3L1683.8 274.2L1686.8 280.7L1689.9 286.7L1692.9 292.4L1695.9 297.7L1698.9 302.7L1704.9 311.7L1710.9 319.6L1716.9 326.6L1722.9 332.9L1731.9 341.1L1740.9 348.2L1749.9 354.1L1758.9 359.1L1767.9 363.1L1776.9 366.4L1788.9 369.6L1800.9 371.9L1816 373.7L1861 376.8L1876 378.7"/>
<path stroke="none" fill="url(#g11)" d="M466 395.8L511.1 393.4L538.1 391.2L553.1 389.5L568.1 386.6L586.2 381.9L610.2 374.3L625.2 368.8L667.3 351.4L682.3 345.7L700.3 340.2L706.3 338.7L712.3 337.9L727.3 337.4L742.4 337.9L757.4 339.3L766.4 341.1L787.4 347.1L802.4 352.4L826.5 362.5L856.5 375.8L874.5 382.6L889.5 387.4L904.6 391L919.6 393.6L931.6 394.8L949.6 395.8L949.6 396L466 396Z"/>
<path stroke="#8000ff" d="M460 396L502.1 393.9L535.1 391.5L553.1 389.5L568.1 386.6L586.2 381.9L610.2 374.3L625.2 368.8L667.3 351.4L682.3 345.7L700.3 340.2L706.3 338.7L712.3 337.9L727.3 337.4L742.4 337.9L757.4 339.3L766.4 341.1L787.4 347.1L802.4 352.4L826.5 362.5L856.5 375.8L874.5 382.6L889.5 387.4L904.6 391L919.6 393.6L931.6 394.8L955.6 395.9L1250 396"/>
<path stroke="none" fill="url(#g12)" d="M658.3 395.7L688.3 394.7L709.3 392.9L733.3 389.5L757.4 385.5L766.4 383.5L775.4 380.4L784.4 376.5L796.4 370.2L820.5 355.7L844.5 340.3L865.5 326L874.5 320.4L880.5 317.8L889.5 315L898.6 313.5L910.6 312.6L922.6 312.5L934.6 313.4L943.6 315.1L949.6 317.1L958.6 321.2L967.6 326.5L979.7 334.3L991.7 343.4L1021.7 367.3L1030.7 373.5L1042.7 380.5L1051.7 384.9L1060.8 388.2L1072.8 391.6L1087.8 394.3L1096.8 395.3L1108.8 395.7L1108.8 396L658.3 396Z"/>
<path stroke="#ef4040" d="M460 396L652.2 395.8L682.3 395L703.3 393.5L721.3 391.3L754.4 386.1L766.4 383.5L775.4 380.4L784.4 376.5L796.4 370.2L820.5 355.7L844.5 340.3L865.5 326L874.5 320.4L880.5 317.8L889.5 315L898.6 313.5L910.6 312.6L922.6 312.5L934.6 313.4L943.6 315.1L949.6 317.1L958.6 321.2L967.6 326.5L979.7 334.3L991.7 343.4L1021.7 367.3L1030.7 373.5L1042.7 380.5L1051.7 384.9L1060.8 388.2L1072.8 391.6L1087.8 394.3L1096.8 395.3L1126.8 396L1250 396"/>
<path stroke="none" fill="url(#g13)" d="M907.6 395.7L919.6 394.8L925.6 393.9L928.6 393.1L934.6 390.7L943.6 385.7L952.6 380.1L958.6 375.8L964.6 370.6L985.7 349.7L994.7 341.4L997.7 338.8L1000.7 336.9L1003.7 335.6L1006.7 334.7L1009.7 334.3L1012.7 334.4L1015.7 335L1018.7 336.1L1021.7 337.7L1024.7 339.8L1030.7 345L1054.8 368.7L1063.8 376.8L1072.8 383.9L1075.8 385.9L1081.8 389L1087.8 391.1L1096.8 393.2L1105.8 394.6L1123.8 395.8L1123.8 396L907.6 396Z"/>
<path stroke="#1a6ade" d="M460 396L898.6 395.9L913.6 395.4L922.6 394.4L928.6 393.1L934.6 390.7L943.6 385.7L952.6 380.1L958.6 375.8L964.6 370.6L985.7 349.7L994.7 341.4L997.7 338.8L1000.7 336.9L1003.7 335.6L1006.7 334.7L1009.7 334.3L1012.7 334.4L1015.7 335L1018.7 336.1L1021.7 337.7L1024.7 339.8L1030.7 345L1054.8 368.7L1063.8 376.8L1072.8 383.9L1075.8 385.9L1081.8 389L1087.8 391.1L1096.8 393.2L1105.8 394.6L1126.8 395.9L1250 396"/>
<path stroke="#1a6ade" d="M460 396L1250 396"/>
<path stroke="#38ac6c" d="M159 395.5L276.1 396.1L435.1 395.4L477.1 394.4L510.2 392.5L540.2 390L555.2 388.1L570.2 385.1L588.2 380.3L612.2 372.6L627.2 367L669.2 349.6L681.2 345.1L708.3 336.2L717.3 334L759.3 328.9L777.3 327.6L786.3 326.2L807.3 321.2L831.3 314.5L849.3 309.5L864.3 306.1L876.3 304.3L897.3 302.7L927.4 301.5L936.4 300.4L945.4 298.3L966.4 292.3L981.4 288.7L990.4 287.5L996.4 287.3L1002.4 288.2L1008.4 290.4L1011.4 291.9L1014.4 294L1017.4 296.7L1020.4 300L1026.4 307.8L1029.4 312.1L1050.4 344.6L1056.4 353L1062.4 360.2L1068.4 366.6L1074.4 372.3L1080.4 377.2L1086.4 380.9L1092.4 383.8L1104.4 387.9L1116.4 391.1L1128.4 393.5L1137.4 394.6L1161.5 395.5L1233.5 395.6L1246.1 395.4"/>
<circle cx="1246.1" cy="395.4" r="5.4" fill="#38ac6c"/>
</g>
<g font-family="'Liberation Serif','Times New Roman',serif" font-weight="bold" style="font-kerning:none">
<text x="252" y="1493" font-size="93" fill="#000" text-anchor="middle">100</text>
<text x="484.3" y="1493" font-size="93" fill="#000" text-anchor="middle">200</text>
<text x="716.6" y="1493" font-size="93" fill="#000" text-anchor="middle">300</text>
<text x="948.9" y="1493" font-size="93" fill="#000" text-anchor="middle">400</text>
<text x="1181.1" y="1493" font-size="93" fill="#000" text-anchor="middle">500</text>
<text x="1413.4" y="1493" font-size="93" fill="#000" text-anchor="middle">600</text>
<text x="1645.7" y="1493" font-size="93" fill="#000" text-anchor="middle">700</text>
<text x="1878" y="1493" font-size="93" fill="#000" text-anchor="middle">800</text>
<text x="567.5" y="1659.6" font-size="117.3" fill="#000" text-anchor="start">Temperature (°C)</text>
<text x="0" y="0" font-size="117.3" fill="#000" text-anchor="start" letter-spacing="-0.5" transform="translate(89 1059.5) rotate(-90)">Intensity (a.u.)</text>
<text x="182" y="1285" font-size="78" fill="#000" text-anchor="start">Co<tspan font-size="51" dy="20" dx="-2">3</tspan><tspan dy="-20" dx="2.5">O</tspan><tspan font-size="51" dy="20" dx="2.5">4</tspan></text>
<text x="181.3" y="1090" font-size="78" fill="#000" text-anchor="start">Al@Co<tspan font-size="51" dy="20" dx="-2">3</tspan><tspan dy="-20" dx="2.5">O</tspan><tspan font-size="51" dy="20" dx="2.5">4</tspan></text>
<text x="186.5" y="862" font-size="78" fill="#000" text-anchor="start">Al@Co<tspan font-size="51" dy="20" dx="-2">3</tspan><tspan dy="-20" dx="2.5">O</tspan><tspan font-size="51" dy="20" dx="2.5">4</tspan><tspan dy="-20" dx="-0.5">-4</tspan></text>
<text x="173" y="641" font-size="78" fill="#000" text-anchor="start">Al@Co<tspan font-size="51" dy="20" dx="-2">3</tspan><tspan dy="-20" dx="2.5">O</tspan><tspan font-size="51" dy="20" dx="2.5">4</tspan><tspan dy="-20" dx="-0.5">-6</tspan></text>
<text x="180.3" y="370" font-size="78" fill="#000" text-anchor="start">Al@Co<tspan font-size="51" dy="20" dx="-2">3</tspan><tspan dy="-20" dx="2.5">O</tspan><tspan font-size="51" dy="20" dx="2.5">4</tspan><tspan dy="-20" dx="-0.5">-8</tspan></text>
</g>
</svg>
</body></html>
